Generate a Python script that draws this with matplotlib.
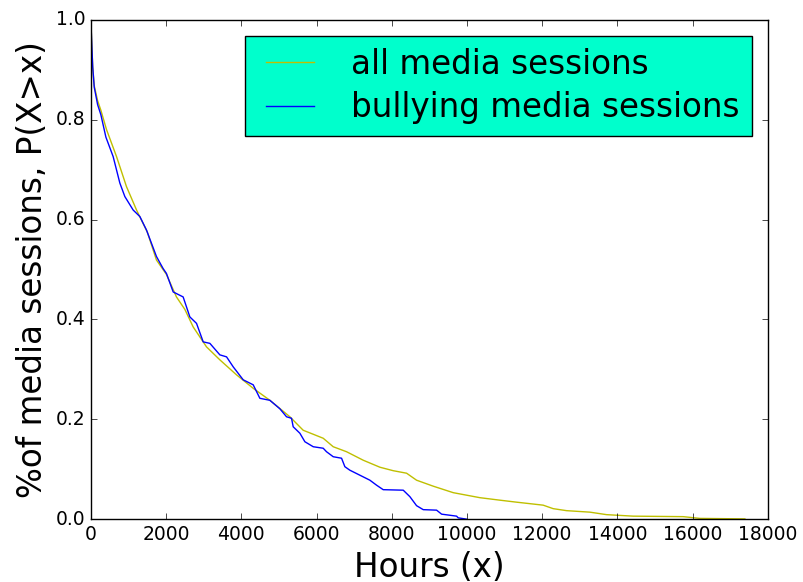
import numpy as np
import matplotlib.pyplot as plt

plt.style.use('classic')

# CCDF of session durations (hours)
all_x = [0, 15, 30, 50, 90, 180, 270, 417, 683, 947, 1215, 1500, 1744, 2010, 2276,
         2500, 2720, 3075, 3430, 3873, 4317, 4760, 5292, 5646, 5913, 6178, 6444,
         6799, 7242, 7685, 8040, 8395, 8660, 9104, 9636, 10343, 10875, 11318,
         12027, 12293, 12648, 13269, 13712, 14418, 15751, 16194, 17390]
all_y = [1.0, 0.97, 0.94, 0.905, 0.868, 0.838, 0.818, 0.78, 0.726, 0.666, 0.619,
         0.575, 0.519, 0.490, 0.445, 0.420, 0.385, 0.345, 0.319, 0.289, 0.262,
         0.238, 0.205, 0.178, 0.170, 0.162, 0.145, 0.135, 0.118, 0.104, 0.097,
         0.092, 0.078, 0.066, 0.053, 0.043, 0.038, 0.034, 0.028, 0.021, 0.017,
         0.014, 0.009, 0.006, 0.005, 0.0015, 0.0005]

bully_x = [0, 15, 30, 50, 90, 180, 266, 400, 593, 771, 904, 1125, 1303, 1479, 1744,
           1920, 2010, 2189, 2454, 2632, 2810, 2987, 3165, 3430, 3608, 3785, 4051,
           4317, 4494, 4760, 5026, 5203, 5336, 5380, 5558, 5691, 5913, 6178, 6266,
           6444, 6666, 6754, 6887, 7153, 7419, 7597, 7774, 8306, 8483, 8660, 8838,
           9193, 9326, 9725, 9768, 9990]
bully_y = [1.0, 0.97, 0.94, 0.905, 0.865, 0.83, 0.81, 0.765, 0.726, 0.673, 0.646,
           0.619, 0.606, 0.579, 0.526, 0.502, 0.492, 0.455, 0.445, 0.405, 0.392,
           0.355, 0.352, 0.329, 0.325, 0.305, 0.279, 0.269, 0.242, 0.238, 0.221,
           0.205, 0.202, 0.185, 0.172, 0.155, 0.145, 0.142, 0.135, 0.125, 0.122,
           0.105, 0.098, 0.088, 0.078, 0.068, 0.059, 0.058, 0.045, 0.027, 0.019,
           0.018, 0.010, 0.006, 0.0026, 0.0]

fig = plt.figure(figsize=(8.04, 5.82), dpi=100, facecolor='white')
ax = fig.add_axes([0.113, 0.108, 0.842, 0.858])

ax.plot(all_x, all_y, color='y', label='all media sessions')
ax.plot(bully_x, bully_y, color='b', label='bullying media sessions')

ax.set_xlim(0, 18000)
ax.set_ylim(0, 1.0)
ax.set_xticks(np.arange(0, 18001, 2000))
ax.set_yticks(np.arange(0, 1.01, 0.2))
ax.tick_params(labelsize=13.5)
ax.set_xlabel('Hours (x)', fontsize=23.5)
ax.set_ylabel('%of media sessions, P(X>x)', fontsize=23.5)

leg = ax.legend(loc='upper right', fontsize=23.5, handlelength=2.05,
                handletextpad=0.85, borderpad=0.36, labelspacing=0.32,
                borderaxespad=0.5)
leg.get_frame().set_facecolor('#00FFCC')

fig.savefig('out.png', dpi=100, facecolor='white')
